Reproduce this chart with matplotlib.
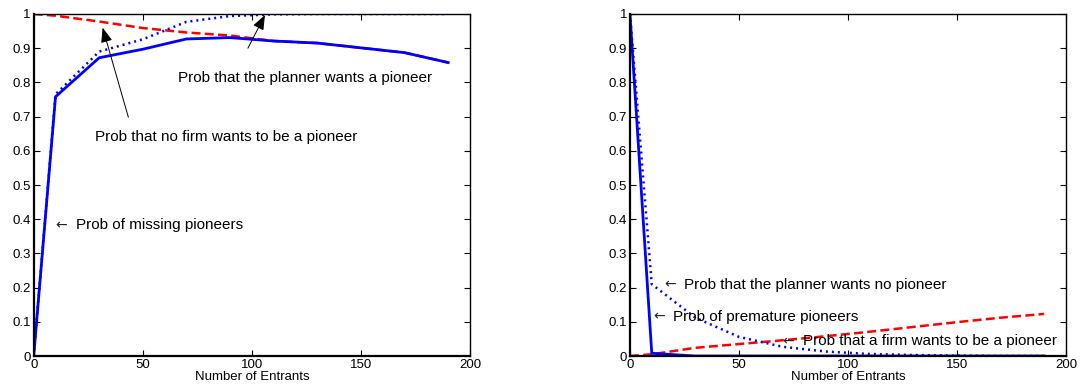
import matplotlib
matplotlib.use("Agg")
import matplotlib.pyplot as plt

plt.rcParams['font.family'] = ['Liberation Sans', 'DejaVu Sans']

# ---- data ----
entrants = [0, 10, 30, 50, 70, 90, 110, 130, 150, 170, 190]

# left panel
missing_pioneers = [0.0, 0.758, 0.872, 0.897, 0.927, 0.931, 0.921, 0.915, 0.901, 0.887, 0.858]
planner_wants_pioneer = [0.0, 0.765, 0.89, 0.926, 0.977, 0.994, 0.999, 1.0, 1.0, 1.0, 1.0]
no_firm_wants_pioneer = [1.0, 0.995, 0.978, 0.959, 0.946, 0.937, 0.921, 0.915, 0.901, 0.887, 0.858]

# right panel
premature_pioneers = [1.0, 0.008, 0.0, 0.0, 0.0, 0.0, 0.0, 0.0, 0.0, 0.0, 0.0]
planner_wants_no_pioneer = [1.0, 0.21, 0.112, 0.056, 0.027, 0.013, 0.006, 0.003, 0.001, 0.0, 0.0]
firm_wants_pioneer = [0.0, 0.005, 0.024, 0.035, 0.046, 0.058, 0.071, 0.085, 0.099, 0.112, 0.123]

xticks = [0, 50, 100, 150, 200]
yticks = [0, 0.1, 0.2, 0.3, 0.4, 0.5, 0.6, 0.7, 0.8, 0.9, 1]
ytick_labels = ['0', '0.1', '0.2', '0.3', '0.4', '0.5', '0.6', '0.7', '0.8', '0.9', '1']
xlabel = 'Number of Entrants'

fig = plt.figure(figsize=(10.8, 3.92), dpi=100)
ax1 = fig.add_axes([0.0312, 0.0918, 0.404, 0.8725])
ax2 = fig.add_axes([0.5833, 0.0918, 0.4037, 0.8725])

blue = '#0000ff'
red = '#ff0000'
FS = 11
DASH = (3.6, 1.7)
DOT = (0, (0.8, 1.6))

def style(ax):
    ax.set_xlim(0, 200)
    ax.set_ylim(0, 1)
    ax.set_xticks(xticks)
    ax.set_xticklabels([str(t) for t in xticks])
    ax.set_yticks(yticks)
    ax.set_yticklabels(ytick_labels)
    ax.tick_params(direction='in', length=4, width=0.8, top=True, right=True,
                   labelsize=9.5, pad=2, colors='black')
    for s in ax.spines.values():
        s.set_linewidth(1.0)
    ax.spines['left'].set_linewidth(1.6)
    ax.spines['bottom'].set_linewidth(1.6)
    ax.set_xlabel(xlabel, fontsize=9.5, labelpad=0)

def arrow(ax, tip, tail):
    ax.annotate('', xy=tip, xytext=tail,
                arrowprops=dict(arrowstyle='-|>,head_length=0.9,head_width=0.35',
                                color='black', lw=0.7, mutation_scale=10,
                                shrinkA=0, shrinkB=0))

def arrow_label(ax, x, y, label):
    ax.text(x, y, '\u2190', fontsize=10, family='DejaVu Sans', va='center', ha='left',
            color='#222222')
    ax.annotate(label, xy=(x, y), xytext=(14.4, 0), textcoords='offset points',
                fontsize=FS, va='center', ha='left')

# left
ax1.plot(entrants, no_firm_wants_pioneer, color=red, lw=1.8, dashes=DASH)
ax1.plot(entrants, planner_wants_pioneer, color=blue, lw=1.8, linestyle=DOT)
ax1.plot(entrants, missing_pioneers, color=blue, lw=2.0)
style(ax1)

ax1.text(66, 0.814, 'Prob that the planner wants a pioneer', fontsize=FS, va='center', ha='left')
arrow(ax1, (106, 0.997), (98.2, 0.9))
ax1.text(28, 0.641, 'Prob that no firm wants to be a pioneer', fontsize=FS, va='center', ha='left')
arrow(ax1, (31.6, 0.96), (43.4, 0.698))
arrow_label(ax1, 10, 0.383, 'Prob of missing pioneers')

# right
ax2.plot(entrants, firm_wants_pioneer, color=red, lw=1.8, dashes=DASH)
ax2.plot(entrants, planner_wants_no_pioneer, color=blue, lw=1.8, linestyle=DOT)
ax2.plot(entrants, premature_pioneers, color=blue, lw=2.0)
style(ax2)
arrow_label(ax2, 15.6, 0.208, 'Prob that the planner wants no pioneer')
arrow_label(ax2, 10.7, 0.115, 'Prob of premature pioneers')
arrow_label(ax2, 70, 0.043, 'Prob that a firm wants to be a pioneer')

fig.savefig('out.png', dpi=100)
